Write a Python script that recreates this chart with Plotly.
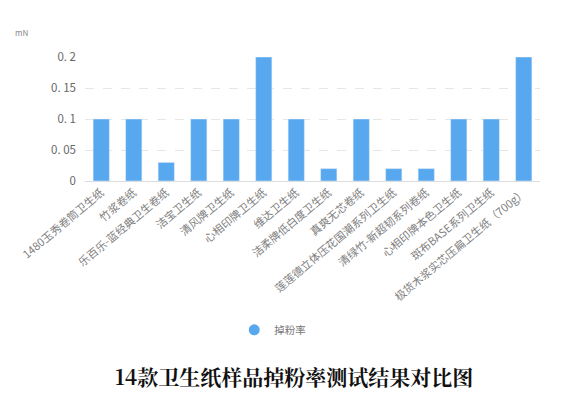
import plotly.graph_objects as go

# sample names and dust-loss values (mN)
samples = [
    "1480玉秀卷筒卫生纸", "竹浆卷纸", "乐百乐-蓝经典卫生卷纸", "洁宝卫生纸",
    "清风牌卫生纸", "心相印牌卫生纸", "维达卫生纸", "洁柔牌低白度卫生纸",
    "真爽无芯卷纸", "莲莲德立体压花国潮系列卫生纸", "清绿竹-新超韧系列卷纸",
    "心相印牌本色卫生纸", "斑布BASE系列卫生纸", "极货木浆实芯压扁卫生纸（700g）",
]
rates = [0.1, 0.1, 0.03, 0.1, 0.1, 0.2, 0.1, 0.02, 0.1, 0.02, 0.02, 0.1, 0.1, 0.2]

tick_vals = [0, 0.05, 0.1, 0.15, 0.2]
tick_text = ["0", "0. 05", "0. 1", "0. 15", "0. 2"]

blue = "#58a8f0"
font = "Noto Sans CJK SC"

fig = go.Figure()
fig.add_trace(go.Bar(x=samples, y=rates, marker_color=blue, showlegend=False,
                     name="掉粉率"))
# legend entry with round marker
fig.add_trace(go.Scatter(x=[None], y=[None], mode="markers", name="掉粉率",
                         marker=dict(color=blue, size=11, symbol="circle")))

fig.update_layout(
    width=560, height=386,
    margin=dict(l=77, r=28, t=49, b=213),
    paper_bgcolor="white", plot_bgcolor="white",
    bargap=0.5,
    font=dict(family=font, color="#666666"),
    legend=dict(orientation="h", x=0.328, y=-1.2, xanchor="left",
                yanchor="middle", font=dict(size=10.5, color="#777777")),
    xaxis=dict(tickangle=-40, tickfont=dict(size=11, color="#808080"),
               showgrid=False, showline=True, linecolor="#dddddd",
               ticks="", automargin=False),
    yaxis=dict(range=[0, 0.2], tickvals=tick_vals, ticktext=tick_text,
               tickfont=dict(size=11.5, color="#666666"),
               showgrid=True, gridcolor="#e6e6e6", griddash="dash",
               zeroline=False, ticks="", automargin=False, ticklabelstandoff=8),
    annotations=[
        dict(text="mN", x=-0.158, y=1.26, xref="paper", yref="paper",
             showarrow=False, font=dict(size=8, color="#888888")),
        dict(text="<b>14款卫生纸样品掉粉率测试结果对比图</b>", x=0.459, y=-1.71,
             xref="paper", yref="paper", showarrow=False,
             font=dict(size=21, color="#111111", family="Noto Serif CJK SC, " + font)),
    ],
)

fig.write_html("out.html")
